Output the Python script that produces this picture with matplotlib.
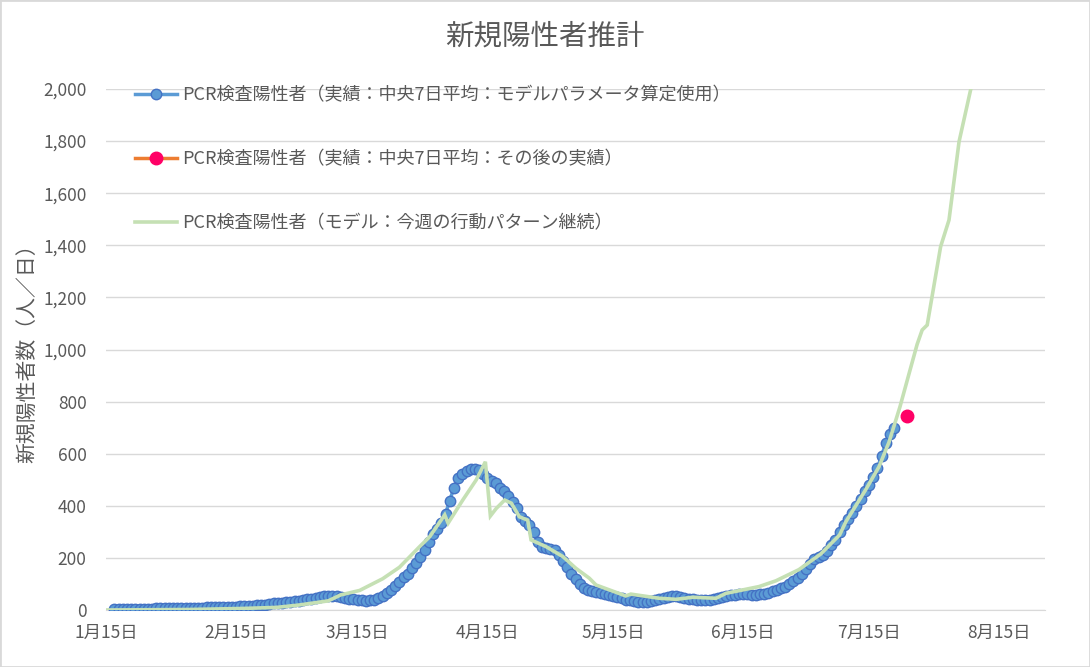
import numpy as np
import matplotlib
matplotlib.use("Agg")
import matplotlib.pyplot as plt
from matplotlib.patches import Rectangle

plt.rcParams["font.family"] = ["Noto Sans CJK JP", "DejaVu Sans"]

TEXT = "#595959"
GRID = "#D9D9D9"

# x values are days counted from 2020-01-15
tick_days = [0, 31, 60, 91, 121, 152, 182, 213]
tick_labels = ["1月15日", "2月15日", "3月15日", "4月15日",
               "5月15日", "6月15日", "7月15日", "8月15日"]
y_ticks = [0, 200, 400, 600, 800, 1000, 1200, 1400, 1600, 1800, 2000]

# PCR positives, central 7-day average (used for model parameters), from day 2
actual_start_day = 2
actual_values = [
    2, 2, 3, 3, 3, 4, 4, 4, 5,
    5, 6, 6, 6, 7, 7, 7, 8, 8, 8,
    9, 9, 9, 10, 10, 10, 11, 11, 12, 13,
    13, 14, 15, 16, 17, 18, 20, 21, 23, 25,
    27, 28, 30, 31, 33, 35, 38, 41, 44, 47,
    50, 53, 55, 54, 52, 50, 46, 43, 41, 39,
    37, 36, 37, 40, 45, 52, 64, 78, 94, 109,
    125, 140, 160, 180, 203, 230, 262, 290, 312, 335,
    370, 420, 470, 505, 522, 533, 540, 542, 538, 522,
    508, 495, 486, 470, 455, 437, 415, 393, 358, 340,
    325, 300, 262, 240, 237, 236, 232, 212, 188, 166,
    140, 118, 100, 86, 78, 72, 68, 65, 62, 58,
    54, 50, 45, 40, 37, 34, 32, 31, 32, 33,
    38, 43, 47, 50, 52, 53, 50, 46, 43, 41,
    39, 38, 38, 39, 42, 46, 50, 53, 56, 58,
    60, 61, 60, 59, 59, 60, 63, 67, 72, 77,
    83, 90, 99, 110, 122, 138, 157, 178, 195, 205,
    213, 225, 248, 270, 300, 325, 350, 372, 400, 428,
    455, 480, 510, 545, 590, 640, 675, 700,
]

# later actual value
later_days = [191]
later_values = [745]

# model: current behaviour pattern continues
model_days = [0, 20, 32.7, 40.7, 46, 53, 56, 60.5, 66, 70, 74.8, 77.2, 80.8,
              81.6, 85.1, 88.3, 90.5, 91.7, 93.1, 95.1, 96.7, 98.6, 100.6,
              101.4, 105, 109, 112.1, 115.3, 116.9, 124, 125.2, 132, 136,
              140, 145.5, 147.9, 155.8, 159.8, 165.3, 170.5, 175, 176.5,
              181.2, 184.4, 186.8, 189.4, 191.6, 193.5, 194.7, 195.9, 199.1,
              201.1, 203.5, 206.3, 208]
model_values = [0, 2, 6, 10, 19, 35, 58, 75, 120, 164, 243, 281, 365,
                333, 422, 499, 569, 361, 390, 422, 410, 358, 345,
                269, 243, 205, 160, 122, 96, 54, 61, 45, 41,
                49, 45, 64, 90, 112, 155, 215, 288, 339,
                461, 550, 645, 780, 909, 1020, 1075, 1094, 1395,
                1497, 1798, 2000, 2150]

labels = ["PCR検査陽性者（実績：中央7日平均：モデルパラメータ算定使用）",
          "PCR検査陽性者（実績：中央7日平均：その後の実績）",
          "PCR検査陽性者（モデル：今週の行動パターン継続）"]

fig = plt.figure(figsize=(10.9, 6.67), dpi=100)
ax = fig.add_axes([106 / 1090, 1 - 610 / 667, (1045 - 106) / 1090, (610 - 89) / 667])

actual_days = np.arange(actual_start_day, actual_start_day + len(actual_values))
ax.plot(actual_days, actual_values, color="#5B9BD5", lw=2.5, marker="o",
        markersize=7.5, markerfacecolor="#5B9BD5", markeredgecolor="#4472C4",
        markeredgewidth=1, label=labels[0], zorder=3)
ax.plot(later_days, later_values, color="#ED7D31", lw=2.5, marker="o",
        markersize=9, markerfacecolor="#FF0066", markeredgecolor="#FF0066",
        label=labels[1], zorder=4)
ax.plot(model_days, model_values, color="#C5E0B4", lw=2.6, label=labels[2],
        zorder=5, solid_joinstyle="miter")

ax.set_xlim(0, 224)
ax.set_ylim(0, 2000)
ax.set_xticks(tick_days)
ax.set_xticklabels(tick_labels)
ax.set_yticks(y_ticks)
ax.set_yticklabels([f"{v:,}" for v in y_ticks])
ax.tick_params(axis="both", length=0, labelsize=12.5, colors=TEXT)
ax.tick_params(axis="x", pad=10)
ax.tick_params(axis="y", pad=14)
ax.grid(axis="y", color=GRID, lw=1)
ax.set_axisbelow(True)
for side in ["top", "right", "left"]:
    ax.spines[side].set_visible(False)
ax.spines["bottom"].set_color(GRID)

leg = ax.legend(loc="upper left", bbox_to_anchor=(135 / 1090, 1 - 86 / 667),
                bbox_transform=fig.transFigure, frameon=False, fontsize=13,
                handlelength=2.3, handletextpad=0.3, labelspacing=2.55,
                borderpad=0, borderaxespad=0)
for t in leg.get_texts():
    t.set_color(TEXT)

fig.text(545 / 1090, 1 - 37 / 667, "新規陽性者推計", ha="center", va="center",
         fontsize=20.5, color=TEXT)
fig.text(27 / 1090, 1 - 348 / 667, "新規陽性者数（人／日）", ha="center",
         va="center", rotation=90, fontsize=15, color=TEXT)

fig.patches.append(Rectangle((0, 0), 1, 1, transform=fig.transFigure,
                             fill=False, edgecolor=GRID, lw=2))

fig.savefig("out.png", dpi=100)
